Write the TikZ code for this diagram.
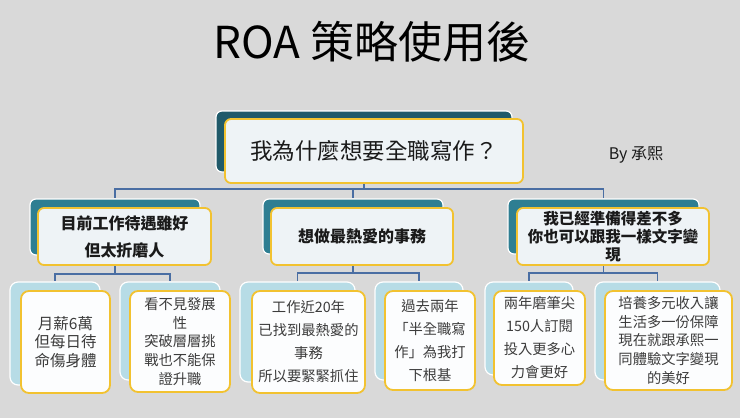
\documentclass[tikz,border=0pt]{standalone}
\usepackage{fontspec}
\setmainfont{Noto Sans CJK TC}
\definecolor{bgc}{HTML}{D9D9D9}
\definecolor{tealdark}{HTML}{205A6A}
\definecolor{tealmid}{HTML}{2E7E92}
\definecolor{lightblue}{HTML}{B7DCE6}
\definecolor{gold}{HTML}{F2C230}
\definecolor{frontfill}{HTML}{EEF3F6}
\definecolor{leaffill}{HTML}{FCFDFE}
\definecolor{linec}{HTML}{4A6EA3}
\definecolor{txtc}{HTML}{1A1A1A}
\definecolor{txtg}{HTML}{3C3C3C}
\pgfdeclarelayer{bg}
\pgfdeclarelayer{edges}
\pgfsetlayers{bg,edges,main}
\begin{document}
\begin{tikzpicture}[x=1pt,y=-1pt,
  backbox/.style={draw=white, line width=1.2pt, rounded corners=6pt, inner sep=0pt},
  topback/.style={backbox, fill=tealdark},
  midback/.style={backbox, fill=tealmid},
  leafback/.style={backbox, fill=lightblue, rounded corners=8pt},
  frontbox/.style={draw=gold, line width=1.8pt, rounded corners=6pt, fill=frontfill, align=center, inner sep=2pt, text=txtc},
  midfront/.style={frontbox, font=\fontsize{16pt}{18pt}\selectfont\bfseries},
  leaffront/.style={frontbox, fill=leaffill, rounded corners=8pt, text=txtg},
  conn/.style={draw=linec, line width=1.8pt}
]
\begin{pgfonlayer}{bg}
\fill[bgc] (0,0) rectangle (740,418);
\end{pgfonlayer}
\useasboundingbox (0,0) rectangle (740,418);

\node[font=\fontsize{44pt}{48pt}\selectfont, text=black] (title) at (372,42) {ROA 策略使用後};

% top level
\node[topback, minimum width=296pt, minimum height=61pt] (topb) at (364,141.5) {};
\node[frontbox, minimum width=298pt, minimum height=64pt, font=\fontsize{22.5pt}{26pt}\selectfont] (topf) at (374,151) {我為什麼想要全職寫作？};
\node[font=\fontsize{16pt}{18pt}\selectfont, text=txtc] (by) at (636,155) {By 承熙};

% level 2
\node[midback, minimum width=170pt, minimum height=56pt] (ab) at (115,227) {};
\node[midfront, minimum width=173pt, minimum height=57pt, font=\fontsize{16pt}{27pt}\selectfont\bfseries] (af) at (124.5,236.5) {目前工作待遇雖好\\但太折磨人};
\node[midback, minimum width=180pt, minimum height=55pt] (bb) at (353,226.5) {};
\node[midfront, minimum width=182pt, minimum height=57pt] (bf) at (362,236.5) {想做最熱愛的事務};
\node[midback, minimum width=191pt, minimum height=55pt] (cb) at (603.5,226.5) {};
\node[midfront, minimum width=192pt, minimum height=57pt, font=\fontsize{15.5pt}{18pt}\selectfont\bfseries] (cf) at (613,236.5) {我已經準備得差不多\\你也可以跟我一樣文字變\\現};

% level 3
\node[leafback, minimum width=90pt, minimum height=103pt] (a1b) at (55,333.5) {};
\node[leaffront, minimum width=89pt, minimum height=102pt, font=\fontsize{15.5pt}{18.5pt}\selectfont] (a1f) at (65.5,342) {月薪6萬\\但每日待\\命傷身體};
\node[leafback, minimum width=100pt, minimum height=98pt] (a2b) at (170,331) {};
\node[leaffront, minimum width=100pt, minimum height=101pt, font=\fontsize{14.3pt}{18.75pt}\selectfont] (a2f) at (180,341.5) {看不見發展\\性\\突破層層挑\\戰也不能保\\證升職};
\node[leafback, minimum width=115pt, minimum height=100pt] (b1b) at (297.5,332) {};
\node[leaffront, minimum width=113pt, minimum height=102pt, font=\fontsize{14.3pt}{23pt}\selectfont] (b1f) at (308.5,342) {工作近20年\\已找到最熱愛的\\事務\\所以要緊緊抓住};
\node[leafback, minimum width=88pt, minimum height=98pt] (b2b) at (419,331) {};
\node[leaffront, minimum width=90pt, minimum height=99pt, font=\fontsize{14.3pt}{23.3pt}\selectfont] (b2f) at (430,340.5) {過去兩年\\「半全職寫\\作」為我打\\下根基};
\node[leafback, minimum width=88pt, minimum height=93pt] (c1b) at (529,328.5) {};
\node[leaffront, minimum width=91pt, minimum height=94pt, font=\fontsize{14.3pt}{23pt}\selectfont] (c1f) at (539.5,338) {兩年磨筆尖\\150人訂閱\\投入更多心\\力會更好};
\node[leafback, minimum width=125pt, minimum height=98pt] (c2b) at (657.5,331) {};
\node[leaffront, minimum width=127pt, minimum height=99pt, font=\fontsize{14.3pt}{18.75pt}\selectfont] (c2f) at (668.5,340.5) {培養多元收入讓\\生活多一份保障\\現在就跟承熙一\\同體驗文字變現\\的美好};

\begin{pgfonlayer}{edges}
\draw[conn] (topb.south) -- ++(0,16) -| (ab.north);
\draw[conn] (topb.south) -- ++(0,16) -| (bb.north);
\draw[conn] (topb.south) -- ++(0,16) -| (cb.north);
\draw[conn] (ab.south) -- ++(0,18) -| (a1b.north);
\draw[conn] (ab.south) -- ++(0,18) -| (a2b.north);
\draw[conn] (bb.south) -- ++(0,18.5) -| (b1b.north);
\draw[conn] (bb.south) -- ++(0,18.5) -| (b2b.north);
\draw[conn] (cb.south) -- ++(0,18.5) -| (c1b.north);
\draw[conn] (cb.south) -- ++(0,18.5) -| (c2b.north);
\end{pgfonlayer}
\end{tikzpicture}
\end{document}
